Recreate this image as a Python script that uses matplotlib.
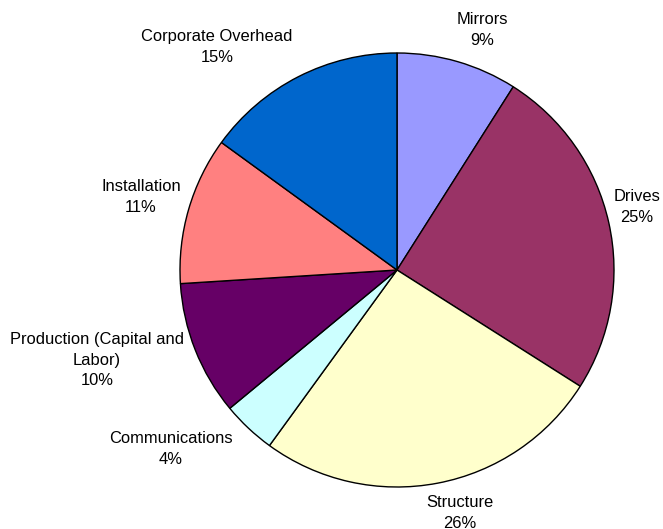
import matplotlib.pyplot as plt

plt.rcParams['font.family'] = ['Liberation Sans', 'DejaVu Sans']

categories = ["Mirrors", "Drives", "Structure", "Communications",
              "Production (Capital and\nLabor)", "Installation", "Corporate Overhead"]
shares = [9, 25, 26, 4, 10, 11, 15]
colors = ["#9999FF", "#993366", "#FFFFCC", "#CCFFFF", "#660066", "#FF8080", "#0066CC"]

# label centres, in units of the pie radius, measured from the pie centre
label_xy = [(0.392, 1.106), (1.106, 0.290), (0.290, -1.120), (-1.041, -0.825),
            (-1.382, -0.415), (-1.180, 0.336), (-0.829, 1.028)]

W, H = 663, 529
fig = plt.figure(figsize=(W / 100, H / 100), dpi=100)
ax = fig.add_axes([0, 0, 1, 1])

cx, cy, r = 397, 529 - 270, 217
wedges, _ = ax.pie(shares, colors=colors, startangle=90, counterclock=False,
                   radius=1.0, wedgeprops=dict(edgecolor="black", linewidth=1.0))

for name, val, (lx, ly) in zip(categories, shares, label_xy):
    ax.text(lx, ly, f"{name}\n{val}%", ha="center", va="center",
            fontsize=11.9, linespacing=1.45, color="black")

ax.set_aspect("auto")
ax.set_xlim(-cx / r, (W - cx) / r)
ax.set_ylim(-cy / r, (H - cy) / r)
ax.axis("off")

fig.savefig("out.png", dpi=100, facecolor="white")
